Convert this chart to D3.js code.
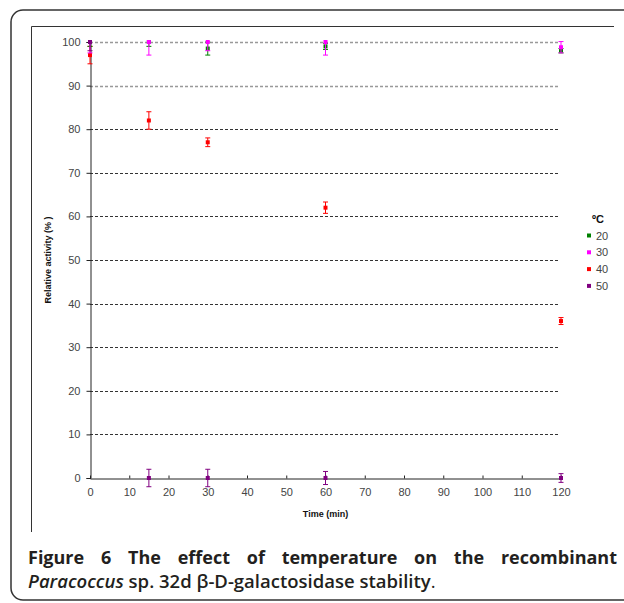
<!DOCTYPE html>
<html>
<head>
<meta charset="utf-8">
<script src="https://cdn.jsdelivr.net/npm/d3@7"></script>
<style>
  body { margin: 0; background: #fff; }
  svg { display: block; }
</style>
</head>
<body>
<div id="chart"></div>
<script>
// Data
var times = [0, 15, 30, 60, 120];
var temps = ["20", "30", "40", "50"];
var colors = ["#008000", "#ff00ff", "#ff0000", "#800080"];
var act20 = [100, 100, 98.5, 99, 98];
var err20 = [1, 1, 1.5, 0.7, 0.5];
var act30 = [100, 100, 100, 100, 98.8];
var err30 = [2.5, 3, 2, 3, 1.3];
var act40 = [97, 82, 77, 62, 36];
var err40 = [2, 2, 1, 1.3, 0.8];
var act50 = [100, 0, 0, 0, 0];
var err50 = [2, 2, 2, 1.5, 1];
var yTicks = [0, 10, 20, 30, 40, 50, 60, 70, 80, 90, 100];
var xTicks = [0, 10, 20, 30, 40, 50, 60, 70, 80, 90, 100, 110, 120];
var captionWords = ["Figure", "6", "The", "effect", "of", "temperature", "on", "the", "recombinant"];

var series = [
  {name: temps[0], values: act20, errs: err20, color: colors[0]},
  {name: temps[1], values: act30, errs: err30, color: colors[1]},
  {name: temps[2], values: act40, errs: err40, color: colors[2]},
  {name: temps[3], values: act50, errs: err50, color: colors[3]}
];
// painting order: red below, then green, magenta, purple on top
var drawOrder = [2, 0, 1, 3];

var W = 624, H = 603;
var svg = d3.select("#chart").append("svg")
  .attr("width", W).attr("height", H);

// outer rounded frame
svg.append("rect")
  .attr("x", 11).attr("y", 10)
  .attr("width", 660).attr("height", 590)
  .attr("rx", 12).attr("ry", 12)
  .attr("fill", "none").attr("stroke", "#333").attr("stroke-width", 1.5);

// inner chart border (left and top only)
svg.append("path")
  .attr("d", "M31.5,532V26.5H614")
  .attr("fill", "none").attr("stroke", "#333").attr("stroke-width", 1);

var x = d3.scaleLinear().domain([0, 120]).range([90, 561]);
var y = d3.scaleLinear().domain([0, 100]).range([478, 42]);

// gridlines
svg.append("g").selectAll("line")
  .data(yTicks.filter(d => d > 0))
  .enter().append("line")
    .attr("x1", x(0)).attr("x2", 560)
    .attr("y1", d => Math.round(y(d)) + 0.5)
    .attr("y2", d => Math.round(y(d)) + 0.5)
    .attr("stroke", d => d >= 90 ? "#999" : "#333")
    .attr("stroke-width", d => d >= 90 ? 1.3 : 1)
    .attr("stroke-dasharray", "3,2");

// axes
var yAxis = svg.append("g")
  .attr("transform", "translate(" + (x(0) + 0.5) + ",0)")
  .call(d3.axisLeft(y).tickValues(yTicks).tickSize(4).tickPadding(6));
var xAxis = svg.append("g")
  .attr("transform", "translate(0," + (y(0) + 0.5) + ")")
  .call(d3.axisBottom(x).tickValues(xTicks).tickSizeInner(-3).tickSizeOuter(0).tickPadding(10));
[yAxis, xAxis].forEach(function(a) {
  a.select(".domain").attr("stroke", "#222");
  a.selectAll(".tick line").attr("stroke", "#222");
  a.selectAll("text")
    .attr("font-family", "Liberation Sans, Arial, sans-serif")
    .attr("font-size", 11).attr("fill", "#444");
});

// axis titles
svg.append("text")
  .attr("x", (x(0) + x(120)) / 2).attr("y", 517)
  .attr("text-anchor", "middle")
  .attr("font-family", "Liberation Sans, Arial, sans-serif")
  .attr("font-size", 9).attr("font-weight", "bold").attr("fill", "#111")
  .text("Time (min)");
svg.append("text")
  .attr("transform", "translate(51," + ((y(0) + y(100)) / 2) + ") rotate(-90)")
  .attr("text-anchor", "middle")
  .attr("font-family", "Liberation Sans, Arial, sans-serif")
  .attr("font-size", 9).attr("font-weight", "bold").attr("fill", "#111")
  .text("Relative activity (% )");

// clip so bars stop at 100
svg.append("clipPath").attr("id", "plotclip")
  .append("rect").attr("x", 80).attr("y", y(100) - 2).attr("width", 500).attr("height", 460);

var marks = svg.append("g").attr("clip-path", "url(#plotclip)");
var square = d3.symbol().type(d3.symbolSquare).size(16);

drawOrder.forEach(function(k) {
  var s = series[k];
  var g = marks.append("g");
  var pts = times.map((t, i) => ({t: t, v: s.values[i], e: s.errs[i]}));
  var bars = g.selectAll(".eb").data(pts).enter().append("g");
  bars.append("line")
    .attr("x1", d => x(d.t)).attr("x2", d => x(d.t))
    .attr("y1", d => y(d.v - d.e)).attr("y2", d => y(d.v + d.e))
    .attr("stroke", s.color).attr("stroke-width", 1);
  bars.selectAll(".cap").data(d => [d.v - d.e, d.v + d.e].map(v => ({t: d.t, v: v})))
    .enter().append("line")
    .attr("x1", d => x(d.t) - 2.5).attr("x2", d => x(d.t) + 2.5)
    .attr("y1", d => y(d.v)).attr("y2", d => y(d.v))
    .attr("stroke", s.color).attr("stroke-width", 1);
  g.selectAll("path").data(pts).enter().append("path")
    .attr("d", square)
    .attr("transform", d => "translate(" + x(d.t) + "," + y(d.v) + ")")
    .attr("fill", s.color);
});

// legend
var lg = svg.append("g");
lg.append("text")
  .attr("x", 592).attr("y", 223)
  .attr("font-family", "Liberation Sans, Arial, sans-serif")
  .attr("font-size", 11).attr("font-weight", "bold").attr("fill", "#111")
  .text("ºC");
series.forEach(function(s, i) {
  var cy = 235.5 + i * 16.8;
  lg.append("path").attr("d", square)
    .attr("transform", "translate(589," + cy + ")").attr("fill", s.color);
  lg.append("text")
    .attr("x", 596).attr("y", cy + 4)
    .attr("font-family", "Liberation Sans, Arial, sans-serif")
    .attr("font-size", 11).attr("fill", "#444")
    .text(s.name);
});

// caption, first line justified word by word
var cap = svg.append("g")
  .attr("font-family", "Open Sans, Noto Sans, sans-serif")
  .attr("fill", "#231f20");
var left = 28, right = 617;
var words = cap.selectAll(".w").data(captionWords).enter().append("text")
  .attr("y", 564).attr("font-size", 18).attr("font-weight", "bold")
  .text(d => d);
var widths = words.nodes().map(n => n.getComputedTextLength());
var gap = (right - left - d3.sum(widths)) / (captionWords.length - 1);
var pos = left;
words.each(function(d, i) {
  d3.select(this).attr("x", pos);
  pos += widths[i] + gap;
});
var l2 = cap.append("text").attr("x", 28).attr("y", 588)
  .attr("font-size", 18.5).attr("font-weight", 600);
l2.append("tspan").attr("font-style", "italic").text("Paracoccus");
l2.append("tspan").text(" sp. 32d β-D-galactosidase stability");
l2.append("tspan").attr("font-weight", "normal").text(".");
</script>
</body>
</html>
